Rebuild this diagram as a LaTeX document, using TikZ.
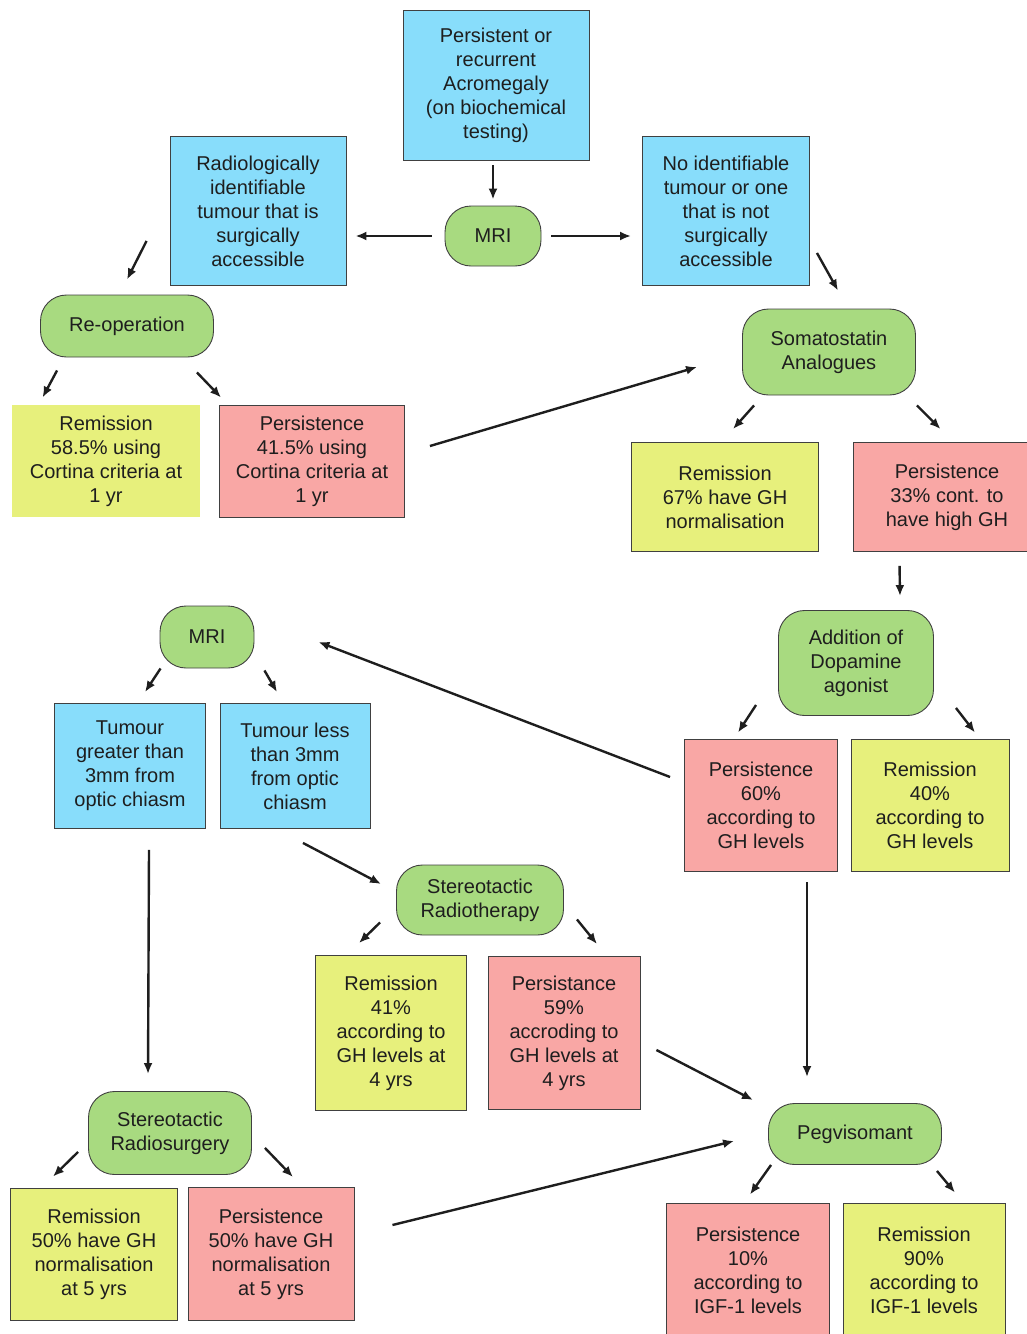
\documentclass[tikz,border=0pt]{standalone}
\usepackage{fontspec}
\setmainfont{Liberation Sans}
\usetikzlibrary{calc}
\usetikzlibrary{arrows.meta}
\definecolor{cblue}{HTML}{88DDFB}
\definecolor{cgreen}{HTML}{A8DA80}
\definecolor{cyell}{HTML}{E7F07C}
\definecolor{cred}{HTML}{F9A7A5}
\definecolor{ink}{HTML}{1E1E1E}
\tikzset{
  box/.style={draw=ink!85, line width=0.9pt, align=center, inner sep=0pt,
    text=ink, font=\fontsize{20}{24}\selectfont},
  bluebox/.style={box, fill=cblue},
  yellbox/.style={box, fill=cyell},
  redbox/.style={box, fill=cred},
  treat/.style={box, fill=cgreen, rounded corners=26pt},
  arr/.style={-{Latex[length=11pt,width=9pt]}, line width=2.4pt, draw=ink}
}
\begin{document}
\begin{tikzpicture}[x=1pt, y=-1pt]
      \useasboundingbox (0,0) rectangle (1027,1334);

      % first row
      \node[bluebox, minimum width=186, minimum height=150] (top) at (496,85)
        {Persistent or\\recurrent\\Acromegaly\\(on biochemical\\testing)};
      \node[treat, minimum width=96, minimum height=60] (mri) at (493,236) {MRI};
      \node[bluebox, minimum width=176, minimum height=149] (radio) at (258,211)
        {Radiologically\\identifiable\\tumour that is\\surgically\\accessible};
      \node[bluebox, minimum width=167, minimum height=149] (noid) at (726,211)
        {No identifiable\\tumour or one\\that is not\\surgically\\accessible};

      % re-operation
      \node[treat, minimum width=173, minimum height=62] (reop) at (127,326) {Re-operation};
      \node[yellbox, draw=none, minimum width=188, minimum height=112] (remA) at (106,461)
        {Remission\\58.5\% using\\Cortina criteria at\\1 yr};
      \node[redbox, minimum width=185, minimum height=112] (perA) at (312,461)
        {Persistence\\41.5\% using\\Cortina criteria at\\1 yr};

      % somatostatin analogues
      \node[treat, minimum width=173, minimum height=86] (soma) at (829,352)
        {Somatostatin\\Analogues};
      \node[yellbox, minimum width=187, minimum height=109] (remB) at (725,497)
        {Remission\\67\% have GH\\normalisation};
      \node[redbox, minimum width=188, minimum height=109] (perB) at (947,497)
        {Persistence\\33\% cont. to\\have high GH};

      % dopamine agonist
      \node[treat, minimum width=155, minimum height=105] (dopa) at (856,663)
        {Addition of\\Dopamine\\agonist};
      \node[redbox, minimum width=153, minimum height=132] (perC) at (761,805)
        {Persistence\\60\%\\according to\\GH levels};
      \node[yellbox, minimum width=158, minimum height=132] (remC) at (930,805)
        {Remission\\40\%\\according to\\GH levels};

      % second MRI
      \node[treat, minimum width=94, minimum height=62] (mri2) at (207,637) {MRI};
      \node[bluebox, minimum width=151, minimum height=125] (tgt) at (130,766)
        {Tumour\\greater than\\3mm from\\optic chiasm};
      \node[bluebox, minimum width=150, minimum height=125] (tlt) at (295,766)
        {Tumour less\\than 3mm\\from optic\\chiasm};

      % radiotherapy
      \node[treat, minimum width=167, minimum height=70] (srt) at (480,900)
        {Stereotactic\\Radiotherapy};
      \node[yellbox, minimum width=151, minimum height=155] (remD) at (391,1033)
        {Remission\\41\%\\according to\\GH levels at\\4 yrs};
      \node[redbox, minimum width=152, minimum height=153] (perD) at (564,1033)
        {Persistance\\59\%\\accroding to\\GH levels at\\4 yrs};

      % radiosurgery
      \node[treat, minimum width=163, minimum height=83] (srs) at (170,1133)
        {Stereotactic\\Radiosurgery};
      \node[yellbox, minimum width=167, minimum height=132] (remE) at (94,1254)
        {Remission\\50\% have GH\\normalisation\\at 5 yrs};
      \node[redbox, minimum width=166, minimum height=133] (perE) at (271,1254)
        {Persistence\\50\% have GH\\normalisation\\at 5 yrs};

      % pegvisomant
      \node[treat, minimum width=173, minimum height=61] (peg) at (855,1134) {Pegvisomant};
      \node[redbox, minimum width=163, minimum height=134] (perF) at (748,1270)
        {Persistence\\10\%\\according to\\IGF-1 levels};
      \node[yellbox, minimum width=162, minimum height=134] (remF) at (924,1270)
        {Remission\\90\%\\according to\\IGF-1 levels};

      % connectors
      \draw[arr] ($(top.south)+(-3,5)$) -- ($(mri.north)+(0,-6)$);
      \draw[arr] ($(mri.west)+(-13,0)$) -- ($(radio.east)+(9,25)$);
      \draw[arr] ($(mri.east)+(10,0)$) -- ($(noid.west)+(-11,25)$);
      \draw[arr] ($(radio.south west)+(-23,-45)$) -- ($(reop.north)+(0,-15)$);
      \draw[arr] ($(noid.south east)+(7,-33)$) -- ($(soma.north)+(9,-18)$);

      \draw[arr] ($(reop.south west)+(17,13)$) -- ($(remA.north west)+(31,-7)$);
      \draw[arr] ($(reop.south east)+(-17,15)$) -- ($(perA.north west)+(2,-7)$);
      \draw[arr] ($(perA.east)+(25,-15)$) -- ($(soma.west)+(-45,15)$);

      \draw[arr] ($(soma.south west)+(12,10)$) -- ($(remB.north)+(8,-13)$);
      \draw[arr] ($(soma.south east)+(1,10)$) -- ($(perB.north west)+(88,-13)$);
      \draw[arr] ($(perB.south west)+(47,14)$) -- ($(dopa.north)+(44,-14)$);

      \draw[arr] ($(dopa.south west)+(-22,-11)$) -- ($(perC.north)+(-23,-6)$);
      \draw[arr] ($(dopa.south east)+(22,-8)$) -- ($(remC.north)+(45,-6)$);
      \draw[arr] ($(perC.west)+(-14,-28)$) -- ($(mri2.east)+(64,5)$);

      \draw[arr] ($(mri2.south west)+(1,0)$) -- ($(tgt.north)+(15,-11)$);
      \draw[arr] ($(mri2.south east)+(10,2)$) -- ($(tlt.north)+(-18,-11)$);
      \draw[arr] ($(tlt.south)+(8,14)$) -- ($(srt.west)+(-15,-16)$);
      \draw[arr] ($(tgt.south)+(19,21)$) -- ($(srs.north)+(-22,-17)$);

      \draw[arr] ($(srt.south west)+(-16,-13)$) -- ($(remD.north)+(-32,-12)$);
      \draw[arr] ($(srt.south east)+(13,-16)$) -- ($(perD.north)+(33,-12)$);
      \draw[arr] ($(perC.south)+(46,11)$) -- ($(peg.north)+(-48,-26)$);
      \draw[arr] ($(perD.east)+(16,17)$) -- ($(peg.west)+(-15,-34)$);

      \draw[arr] ($(srs.south west)+(-10,-23)$) -- ($(remE.north)+(-41,-11)$);
      \draw[arr] ($(srs.south east)+(13,-27)$) -- ($(perE.north)+(22,-10)$);
      \draw[arr] ($(perE.east)+(38,-29)$) -- ($(peg.west)+(-34,7)$);

      \draw[arr] ($(peg.south west)+(3,0)$) -- ($(perF.north)+(2,-8)$);
      \draw[arr] ($(peg.south east)+(-5,6)$) -- ($(remF.north)+(31,-10)$);
\end{tikzpicture}
\end{document}
